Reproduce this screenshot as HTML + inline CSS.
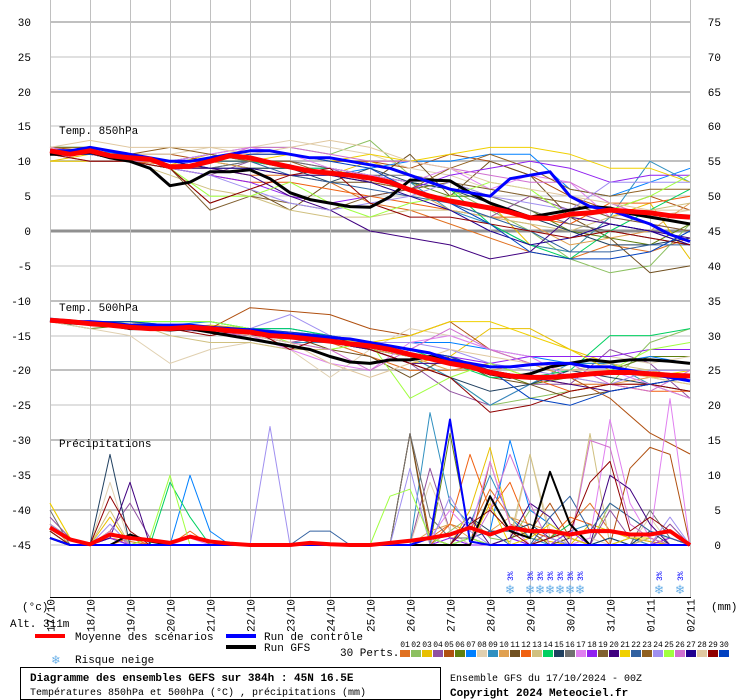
<!DOCTYPE html>
<html><head><meta charset="utf-8">
<style>
html,body{margin:0;padding:0;background:#fff;}
svg{display:block;font-family:"Liberation Mono","DejaVu Sans Mono",monospace;}
</style></head>
<body>
<svg id="chart" width="740" height="700" viewBox="0 0 740 700" xmlns="http://www.w3.org/2000/svg">
<g id="grid"></g>
<g id="axes"></g>
<g id="series"></g>
<g id="snow"></g>
<text x="59" y="134" font-size="11">Temp. 850hPa</text>
<text x="59" y="311" font-size="11">Temp. 500hPa</text>
<text x="59" y="447" font-size="11">Précipitations</text>
<text x="22" y="610" font-size="11">(°c)</text>
<text x="10" y="627" font-size="11">Alt. 311m</text>
<text x="711" y="610" font-size="11">(mm)</text>
<g>
<rect x="35" y="634" width="30" height="4" fill="#ff0000"/>
<text x="75" y="640" font-size="11">Moyenne des scénarios</text>
<rect x="226" y="634" width="30" height="4" fill="#0000ff"/>
<text x="264" y="640" font-size="11">Run de contrôle</text>
<rect x="226" y="645" width="30" height="4" fill="#000"/>
<text x="264" y="651" font-size="11">Run GFS</text>
<text x="340" y="656" font-size="11">30 Perts.</text>
<text x="52" y="664" font-size="13" fill="#6ab0e8">❄</text>
<text x="75" y="663" font-size="11">Risque neige</text>
<g id="pertlegend"></g>
</g>
<rect x="20.5" y="667.5" width="420" height="32" fill="none" stroke="#000"/>
<text x="30" y="681" font-size="11" font-weight="bold">Diagramme des ensembles GEFS sur 384h : 45N 16.5E</text>
<text x="30" y="695" font-size="10">Températures 850hPa et 500hPa (°C) , précipitations (mm)</text>
<text x="450" y="681" font-size="10">Ensemble GFS du 17/10/2024 - 00Z</text>
<text x="450" y="696" font-size="11" font-weight="bold">Copyright 2024 Meteociel.fr</text>
</svg>
<script>
// ---- data ----
const dates = ["17/10","18/10","19/10","20/10","21/10","22/10","23/10","24/10","25/10","26/10","27/10","28/10","29/10","30/10","31/10","01/11","02/11"];
const leftTicks = [30,25,20,15,10,5,0,-5,-10,-15,-20,-25,-30,-35,-40,-45];
const rightTicks = [75,70,65,60,55,50,45,40,35,30,25,20,15,10,5,0];
const pertColors = ["#e07020","#8cc060","#e8c000","#9050a0","#b05010","#608010","#0080ff","#e0d0b0","#3090c0","#e0a050","#705020","#f06010","#d0c080","#00d060","#204060","#707070","#e080f0","#9020f0","#806030","#400080","#f0d000","#3060a0","#906020","#a090f0","#a0ff40","#d070d0","#200090","#e0c8a0","#900000","#0040c0"];
// 850 hPa, 12h steps
const mean850 = [11.5,11,11.5,10.8,10.5,10.3,9.2,9.3,10,10.8,10.5,9.8,9.2,8.6,8.3,8,7.6,7,5.9,5,4.3,3.8,3.3,2.7,1.9,1.8,2.4,2.6,3,2.8,2.6,2.2,2];
const ctrl850 = [11.5,11.5,12,11.5,11,10.5,10,10,10.5,11,11.5,11.5,11,10.5,10.5,10,9.5,9,8,7,6,5.5,5,7.5,8,8.5,5,3.5,3,2,1,-0.5,-1.5];
const gfs850 = [11,11,11.3,10.5,10,9,6.5,7,8.5,8.5,8.8,7.5,5.5,4.5,4,3.5,3.4,4.9,7.3,7.3,7.2,5.5,4,3,2,2.5,3,3.5,3.3,2.5,2,1.5,1];
// 850 hPa perturbations, daily
const p850_01 = [11,11,10,9.5,9,8,8,7,4,3,1,-1,-3,-4,-2,-3,-1];
const p850_02 = [12,11,10,10,11,12,12,11,13,8,6,3,0,-4,-6,-5,1];
const p850_03 = [10,11,11,9.5,11,10,9,8,10,8,7,4,-2,-3,2,4,-4];
const p850_04 = [11,11,10,9,8,10,10,9,7,6,4,2,5,3,1,0,-2];
const p850_05 = [12,11.5,11,11,10,11,11,10,10,9,11,10,8,5,3,5,3];
const p850_06 = [12,12,11,10,10,9,9,8,8,7,5,5,3,0,-1,-2,1];
const p850_07 = [11,11.5,11,10,11,10,9.5,8,9,10,10,11,11,6,5,7,9];
const p850_08 = [12,12,11,11,12,12,13,12,11,9,8,6,5,4,3,2,3];
const p850_09 = [11,11,11,10,9,10,9,9,8,7,3,1,-2,-3,2,10,7];
const p850_10 = [11,11,10,10,10,9,8,8,7,6,3,2,1,-2,-1,0,4];
const p850_11 = [11,11,10,9,4,6,3,7,7,11,5,10,8,2,-1,-6,-5];
const p850_12 = [11,10,10,9,8,7,7,6,5,4,3,2,2,1,4,4,5];
const p850_13 = [12,11,10,8,6,5,3,2,2,3,3,2,1,0,2,3,4];
const p850_14 = [12,12,11,10,10,10,9,9,8,7,6,1,-2,-4,0,3,6];
const p850_15 = [11,11,10,10,9,9,9,7,9,7,6,4,2,0,-2,-2,-1];
const p850_16 = [11,11,10,9,9,10,10,9,8,8,7,5,3,1,0,-1,-2];
const p850_17 = [11,11,11,10,11,12,11,9,8,7,9,6,8,7,2,1,0];
const p850_18 = [11,11,10,9,8,7,5,4,5,6,8,9,10,9,7,8,8];
const p850_19 = [11,11,10,9,3,5,4,3,5,6,7,6,5,4,2,1,0];
const p850_20 = [11,11,10,9,9,8,5,3,0,-1,-2,-4,-3,2,1,0,-1];
const p850_21 = [10,10,10,10,10,10,11,10,11,10,11,12,12,11,9,9,7];
const p850_22 = [11,11,11,10,10,10,8,7,6,5,4,2,0,-3,-3,-2,-2];
const p850_23 = [12,12,11,12,11,10,10,8,7,6,9,11,9,6,5,6,6];
const p850_24 = [11,10,10,9,8,6,4,3,4,5,7,5,4,3,7,7,7];
const p850_25 = [11,11,10,9,5,5,7,4,2,4,5,7,6,2,3,5,8];
const p850_26 = [12,11,10,10,10,12,12,11,10,10,9,8,7,7,4,2,1];
const p850_27 = [11,11,11,10,9,9,8,8,7,5,3,0,-2,-1,1,0,-2];
const p850_28 = [12,13,12,12,12,11,12,13,12,10,9,7,6,5,4,3,3];
const p850_29 = [11,10,10,9,4,6,8,9,4,2,2,1,0,-1,0,-1,-2];
const p850_30 = [11,11,11,10,10,11,11,10,9,6,4,1,-3,-4,-4,-3,0];
const perts850 = [p850_01,p850_02,p850_03,p850_04,p850_05,p850_06,p850_07,p850_08,p850_09,p850_10,p850_11,p850_12,p850_13,p850_14,p850_15,p850_16,p850_17,p850_18,p850_19,p850_20,p850_21,p850_22,p850_23,p850_24,p850_25,p850_26,p850_27,p850_28,p850_29,p850_30];
// 500 hPa
const mean500 = [-12.8,-13,-13.3,-13.5,-13.8,-14,-14,-13.8,-14,-14.3,-14.5,-15,-15.2,-15.5,-15.8,-16.2,-16.5,-17,-17.7,-18.3,-19,-19.5,-20.3,-20.8,-21,-21,-20.8,-20.5,-20.3,-20.3,-20.5,-20.7,-20.8];
const ctrl500 = [-12.8,-13,-13,-13.2,-13.5,-13.5,-13.5,-13.5,-13.8,-14,-14.2,-14.5,-14.8,-15,-15.3,-15.5,-16,-16.5,-17,-17.5,-18.5,-19,-19.5,-19.5,-19.2,-19,-19,-19.5,-19.5,-20,-20.5,-21,-21.5];
const gfs500 = [-12.8,-13.2,-13.3,-13.5,-14,-14,-14.2,-14,-14.5,-15,-15.5,-16,-16.5,-17,-18,-18.8,-19,-18.5,-18.5,-18,-18.5,-19.5,-20.5,-21,-20.5,-19.5,-19,-18.5,-18.8,-18.5,-18.5,-18.7,-19];
const p500_01 = [-13,-13,-13.5,-14,-14,-15,-15,-16,-18,-20,-20,-19,-21,-22,-22,-22,-23];
const p500_02 = [-13,-13.5,-13,-14,-14,-14.5,-15,-16,-17,-18,-21,-25,-24,-23,-22,-16,-14];
const p500_03 = [-13,-13,-13.5,-14,-13.5,-14,-15,-16,-17,-19,-18,-14,-14,-17,-19,-21,-22];
const p500_04 = [-13,-13,-14,-14,-14,-15,-16,-15,-17,-19,-23,-25,-22,-22,-17,-19,-24];
const p500_05 = [-13,-13.5,-14,-14,-14,-11,-11.5,-12,-14,-15,-13,-17,-19,-21,-24,-29,-32];
const p500_06 = [-13,-14,-13.5,-14,-14.5,-15,-15,-16,-17,-18,-19,-20,-22,-21,-20,-18,-18];
const p500_07 = [-12.5,-13,-13,-13.5,-13,-14,-14,-15,-16,-16,-16,-17,-18,-19,-19,-18,-19];
const p500_08 = [-13,-14,-15,-19,-17,-16,-17,-21,-17,-14,-15,-17,-18,-18,-18,-19,-18];
const p500_09 = [-13,-13,-14,-14,-14,-15,-16,-16,-17,-18,-21,-25,-22,-19,-19,-22,-23];
const p500_10 = [-13,-13,-13.5,-14,-14,-15,-15,-16,-17,-18,-20,-20,-19,-21,-22,-21,-21];
const p500_11 = [-13,-13,-13.5,-14,-14,-15,-15,-17,-18,-21,-18,-21,-22,-24,-23,-22,-24];
const p500_12 = [-13,-13,-13.5,-14,-14,-15,-15,-16,-16,-17,-18,-20,-21,-23,-22,-23,-23];
const p500_13 = [-13,-13,-13,-15,-16,-16,-17,-17,-16,-17,-18,-20,-21,-20,-19,-20,-21];
const p500_14 = [-13,-13,-13,-13,-13,-14,-14,-15,-16,-17,-19,-21,-21,-20,-15,-15,-14];
const p500_15 = [-13,-13.5,-13.5,-14,-14,-14.5,-15,-16,-17,-19,-21,-23,-22,-20,-21,-22,-21];
const p500_17 = [-13,-13,-14,-14,-14,-15,-17,-19,-20,-16,-15,-17,-18,-21,-20,-22,-24];
const p500_18 = [-13,-13,-13.5,-14,-14,-14,-14.5,-15,-16,-17,-18,-19,-18,-18,-18,-17,-17];
const p500_20 = [-13,-13,-13.5,-14,-14.5,-15,-15,-16,-17,-19,-19,-20,-21,-22,-23,-22,-21];
const p500_21 = [-13,-13,-13.5,-14,-14,-14.5,-15,-15.5,-16,-15,-13,-13,-15,-17,-20,-21,-20];
const p500_24 = [-13,-13,-13.5,-14,-14,-14,-12,-15,-16,-16,-17,-19,-20,-21,-22,-20,-20];
const p500_25 = [-13,-13,-13,-13,-13,-14,-16,-17,-16,-24,-21,-19,-21,-21,-20,-17,-16];
const p500_26 = [-13,-13,-14,-14,-14.5,-15,-16,-17,-20,-17,-14,-17,-19,-19,-22,-23,-20];
const p500_28 = [-13,-13,-13.5,-14,-14,-15,-16,-19,-21,-19,-17,-18,-19,-20,-20,-21,-22];
const p500_29 = [-13,-13.5,-14,-14,-15,-14,-17,-15,-17,-19,-21,-26,-25,-23,-22,-22,-23];
const p500_30 = [-13,-13,-13,-13.5,-14,-14,-14.5,-15,-16,-17,-18,-20,-24,-25,-23,-22,-21];
const perts500 = [p500_01,p500_02,p500_03,p500_04,p500_05,p500_06,p500_07,p500_08,p500_09,p500_10,p500_11,p500_12,p500_13,p500_14,p500_15,p500_17,p500_18,p500_20,p500_21,p500_24,p500_25,p500_26,p500_28,p500_29,p500_30];
const perts500Idx = [0,1,2,3,4,5,6,7,8,9,10,11,12,13,14,16,17,19,20,23,24,25,27,28,29];
// precipitation (mm), 12h steps
const meanPr = [2.5,0.8,0.1,1.5,1,0.7,0.3,1.2,0.5,0.2,0,0,0,0.3,0.1,0,0,0.3,0.6,1,1.5,2.5,1.5,2.5,2,2,1.5,2,2,1.5,1.5,2,0];
const ctrlPr = [1,0,0,0,0,0,0,0,0,0,0,0,0,0,0,0,0,0,0,1,18,0.5,0,0,0,0,0,0,0,0,0,0,0];
const gfsPr = [1,0,0,0,1.5,0.5,0,0,0,0,0,0,0,0,0,0,0,0,0,0,0,0,7,2,1,10.5,3,0,0,0,0,0,0];
const pr_01 = [3,1,0,1,0.5,0,0,0,0,0,0,0,0,0,0,0,0,0,0,1,3,2,8,4,2,1,3,6,2,1,0.5,0,0];
const pr_02 = [2,0,0,0,0,0,0,0,0,0,0,0,0,0,0,0,0,0,0,0,2,4,1,0.5,5,3,1,0,6,4,2,1,0];
const pr_03 = [6,1,0,4,0,0,0,0,0,0,0,0,0,0,0,0,0,0,0,0,0,5,14,3,1,0.5,0,3,2,1,0.5,0,0];
const pr_04 = [4,1,0,2,6,1,0,0,0,0,0,0,0,0,0,0,0,0,0,11,2,0,0,1,0,2,0,0,5,1,0,3,0];
const pr_05 = [3,1,0,1,0,1,0,0,0,0,0,0,0,0,0,0,0,0,16,1,0,0,12,3,2,6,1,0,0,11,14,13,0];
const pr_06 = [2,0,0,1,0,0,0,0,0,0,0,0,0,0,0,0,0,0,0,0,16,1,0,0,0,1,0,0,0,0,0,0,0];
const pr_07 = [1,0,0,0,0,0,0,10,2,0,0,0,0,0,0,0,0,0,0,0,0,1,2,15,5,3,1,0,1,0,2,1,0];
const pr_08 = [2,0,0,9,0,0,0,0,0,0,0,0,0,0,0,0,0,0,0,9,2,0,0,0,13,2,0,1,0,0,4,0,0];
const pr_09 = [1,0,0,1,0,0,0,0,0,0,0,0,0,0,0,0,0,0,0,19,6,3,10,4,1,0,2,3,0,1,0,0,0];
const pr_10 = [3,0,0,1,0,0,0,0,0,0,0,0,0,0,0,0,0,0,0,2,3,1,2,4,3,2,1,0,0,0,1,0,0];
const pr_11 = [2,0,0,2,0,0,0,0,0,0,0,0,0,0,0,0,0,0,16,0,0,0,0,1,2,0,1,0,0,0,1,0,0];
const pr_12 = [1,0,0,0,1,0,0,2,0,0,0,0,0,0,0,0,0,0,0,0,3,13,5,9,2,1,4,3,0,0,0,1,0];
const pr_13 = [2,0,0,5,0,0,0,0,0,0,0,0,0,0,0,0,0,0,0,1,0,0,0,1,13,1,0,16,0,0,1,0,0];
const pr_14 = [1,0,0,0,0,0,9,4,0,0,0,0,0,0,0,0,0,0,0,0,0,0,0,0,0,1,3,0,0,0,0,0,0];
const pr_15 = [2,0,0,13,0,0,0,0,0,0,0,0,0,0,0,0,0,0,0,1,0,4,2,2,3,1,0,0,1,0,2,0,0];
const pr_16 = [5,0,0,1,0,0,0,0,0,0,0,0,0,0,0,0,0,0,16,4,1,1,0,0,0,0,0,0,0,0,5,1,0];
const pr_17 = [1,0,0,1,0,0,0,1,0,0,0,0,0,0,0,0,0,0,0,1,5,2,12,3,0,0,0,1,18,6,1,21,0];
const pr_18 = [1,0,0,1,0,0,0,0,0,0,0,0,0,0,0,0,0,0,0,0,1,0,0,1,0,0,2,0,0,0,0,1,0];
const pr_20 = [2,0,0,1,9,0,0,0,0,0,0,0,0,0,0,0,0,0,0,0,0,4,0,1,6,4,0,0,10,8,3,0,0];
const pr_21 = [6,1,0,2,0,0,0,0,0,0,0,0,0,0,0,0,0,0,0,0,0,0,6,0,1,3,1,0,0,1,1,0,0];
const pr_22 = [1,0,0,0,0,0,0,0,0,0,0,0,0,2,2,0,0,0,0,0,0,1,2,0,0,4,7,2,6,4,2,1,0];
const pr_24 = [3,1,0,3,0,0,0,0,0,0,0,17,0,0,0,0,0,0,11,0,7,2,0,0,0,1,0,0,0,0,0,4,0];
const pr_25 = [2,0,0,2,0,1,10,0,0,0,0,0,0,0,0,0,0,7,8,1,0,1,0,0,0,0,0,0,0,0,0,0,0];
const pr_26 = [1,0,0,2,0,0,0,0,0,0,0,0,0,0,0,0,0,0,0,0,0,0,5,13,6,0,0,15,14,3,1,0,0];
const pr_29 = [2,0,0,7,2,0,0,0,0,0,0,0,0,0,0,0,0,0,0,0,0,3,5,2,0,1,2,9,12,2,4,2,0];
const pertsPr = [pr_01,pr_02,pr_03,pr_04,pr_05,pr_06,pr_07,pr_08,pr_09,pr_10,pr_11,pr_12,pr_13,pr_14,pr_15,pr_16,pr_17,pr_18,pr_20,pr_21,pr_22,pr_24,pr_25,pr_26,pr_29];
const pertsPrIdx = [0,1,2,3,4,5,6,7,8,9,10,11,12,13,14,15,16,17,19,20,21,23,24,25,28];
// snow risk (12h step index, percent)
const snowSteps = [23,24,24.5,25,25.5,26,26.5,30.45,31.5];
const snowPct = ["3%","3%","3%","3%","3%","3%","3%","3%","3%"];

// ---- scales ----
const NS = "http://www.w3.org/2000/svg";
const X0 = 50, X1 = 690, PX = 6.97;
function xDay(d){ return X0 + d*40; }
function xStep(i){ return X0 + i*20; }
function yT(v){ return 231 - v*PX; }
function yP(v){ return 545 - v*PX; }
function mk(tag, attrs, parent){ const e=document.createElementNS(NS,tag); for(const k in attrs) e.setAttribute(k,attrs[k]); parent.appendChild(e); return e; }

const grid = document.getElementById('grid');
const axes = document.getElementById('axes');
const series = document.getElementById('series');

leftTicks.forEach(function(v){
  const y = Math.round(yT(v));
  const heavy = (v % 10 === 0);
  const l = mk('line',{x1:X0,x2:X1,y1:y,y2:y,stroke: v===0?'#909090':'#c0c0c0','stroke-width': v===0?3:(heavy?2:1)},grid);
  
  
  const t = mk('text',{x:31,y:y+4,'font-size':11,'text-anchor':'end'},axes);
  t.textContent = v;
  
  
});
rightTicks.forEach(function(v,i){
  const y = Math.round(yT(leftTicks[i]));
  const t = mk('text',{x:721,y:y+4,'font-size':11,'text-anchor':'end'},axes);
  t.textContent = v;
  
  
});
dates.forEach(function(d,i){
  const x = xDay(i)+0.5;
  const l = mk('line',{x1:x,x2:x,y1:0,y2:597,stroke:'#c0c0c0','stroke-width':1},grid);
  
  
  const t = mk('text',{x:0,y:0,'font-size':11,'text-anchor':'end',transform:'translate('+(x+4)+',599) rotate(-90)'},axes);
  t.textContent = d;
  
  
});
const base = mk('line',{x1:X0,x2:X1+1,y1:597.5,y2:597.5,stroke:'#000','stroke-width':1},axes);



function drawLine(vals, xf, yf, color, w, name){
  const pts = vals.map(function(v,i){ return xf(i).toFixed(1)+','+yf(v).toFixed(1); }).join(' ');
  const p = mk('polyline',{points:pts,fill:'none',stroke:color,'stroke-width':w,'stroke-linejoin':'round'},series);
  
  
}
perts850.forEach(function(s,k){ drawLine(s,xDay,yT,pertColors[k],1,'pert-850-line'); });
perts500.forEach(function(s,k){ drawLine(s,xDay,yT,pertColors[perts500Idx[k]],1,'pert-500-line'); });
pertsPr.forEach(function(s,k){ drawLine(s,xStep,yP,pertColors[pertsPrIdx[k]],1,'pert-precip-line'); });
drawLine(gfs850,xStep,yT,'#000',3,'gfs-850-line');
drawLine(gfs500,xStep,yT,'#000',3,'gfs-500-line');
drawLine(gfsPr,xStep,yP,'#000',2,'gfs-precip-line');
drawLine(ctrl850,xStep,yT,'#0000ff',3,'control-850-line');
drawLine(ctrl500,xStep,yT,'#0000ff',3,'control-500-line');
drawLine(ctrlPr,xStep,yP,'#0000ff',2,'control-precip-line');
drawLine(mean850,xStep,yT,'#ff0000',5,'mean-850-line');
drawLine(mean500,xStep,yT,'#ff0000',5,'mean-500-line');
drawLine(meanPr,xStep,yP,'#ff0000',4,'mean-precip-line');

const snow = document.getElementById('snow');
snowSteps.forEach(function(s,i){
  const x = xStep(s);
  const f = mk('text',{x:x,y:594,'font-size':14,'text-anchor':'middle',fill:'#6ab0e8'},snow);
  f.textContent = '❄';
  
  
  const t = mk('text',{x:0,y:0,'font-size':8,fill:'#0000ff',transform:'translate('+(x+3)+',581) rotate(-90)'},snow);
  t.textContent = snowPct[i];
  
  
});

const pl = document.getElementById('pertlegend');
pertColors.forEach(function(c,i){
  const x = 400 + i*11;
  const t = mk('text',{x:x+5,y:647,'font-size':8,'text-anchor':'middle'},pl);
  t.textContent = (i<9?'0':'')+(i+1);
  
  
  const r = mk('rect',{x:x,y:650,width:10,height:7,fill:c},pl);
  
  
});
</script>
</body></html>
